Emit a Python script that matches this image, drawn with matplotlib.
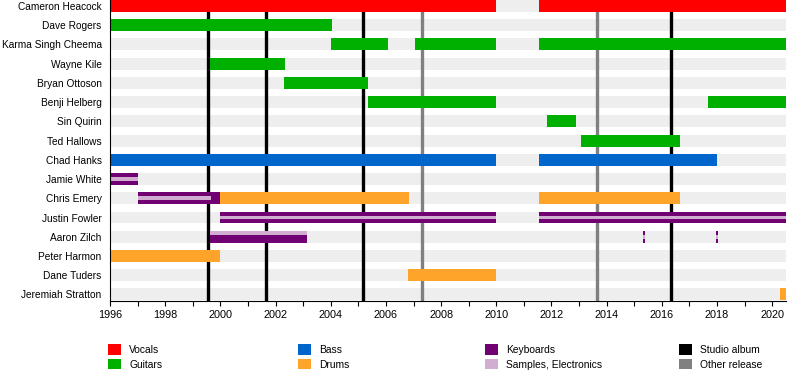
import matplotlib
matplotlib.use("Agg")
from matplotlib import pyplot as plt
from matplotlib.patches import Patch
import numpy as np

plt.rcParams['font.family'] = ['Liberation Sans', 'DejaVu Sans']

members = ["Cameron Heacock", "Dave Rogers", "Karma Singh Cheema", "Wayne Kile",
           "Bryan Ottoson", "Benji Helberg", "Sin Quirin", "Ted Hallows",
           "Chad Hanks", "Jamie White", "Chris Emery", "Justin Fowler",
           "Aaron Zilch", "Peter Harmon", "Dane Tuders", "Jeremiah Stratton"]

start_year = 1996.0
end_year = 2020.5

# (member, start, end)
vocals = [("Cameron Heacock", 1996.0, 2010.0), ("Cameron Heacock", 2011.55, 2020.5)]
guitars = [("Dave Rogers", 1996.0, 2004.05),
           ("Karma Singh Cheema", 2004.0, 2006.08),
           ("Karma Singh Cheema", 2007.06, 2010.0),
           ("Karma Singh Cheema", 2011.55, 2020.5),
           ("Wayne Kile", 1999.63, 2002.35),
           ("Bryan Ottoson", 2002.3, 2005.36),
           ("Benji Helberg", 2005.36, 2010.0),
           ("Benji Helberg", 2017.69, 2020.5),
           ("Sin Quirin", 2011.85, 2012.9),
           ("Ted Hallows", 2013.08, 2016.67)]
bass = [("Chad Hanks", 1996.0, 2010.0), ("Chad Hanks", 2011.55, 2018.0)]
drums = [("Chris Emery", 2000.0, 2006.85),
         ("Chris Emery", 2011.55, 2016.67),
         ("Peter Harmon", 1996.0, 2000.0),
         ("Dane Tuders", 2006.8, 2010.0),
         ("Jeremiah Stratton", 2020.3, 2020.5)]
keyboards = [("Jamie White", 1996.0, 1997.0),
             ("Chris Emery", 1997.0, 2000.0),
             ("Justin Fowler", 2000.0, 2010.0),
             ("Justin Fowler", 2011.55, 2020.5),
             ("Aaron Zilch", 2015.33, 2015.39),
             ("Aaron Zilch", 2017.97, 2018.03)]
samples = [("Jamie White", 1996.0, 1997.0),
           ("Chris Emery", 1997.0, 1999.66),
           ("Justin Fowler", 2000.0, 2010.0),
           ("Justin Fowler", 2011.55, 2020.5),
           ("Aaron Zilch", 2015.33, 2015.39),
           ("Aaron Zilch", 2017.97, 2018.03)]
# Aaron Zilch: samples as main bar, keyboards as lower stripe
samples_main = [("Aaron Zilch", 1999.63, 2003.14)]
keyboards_low = [("Aaron Zilch", 1999.63, 2003.14)]

studio_albums = [1999.55, 2001.66, 2005.18, 2016.35]
other_releases = [2007.32, 2013.66]

c_vocals = "#ff0000"
c_guitars = "#00b000"
c_bass = "#0066cc"
c_drums = "#ffa42a"
c_keys = "#710073"
c_samples = "#d2add2"
c_band = "#eeeeee"

fig = plt.figure(figsize=(8, 3.9), dpi=100)
ax = fig.add_axes([110 / 800, 1 - 301 / 390, 676 / 800, 301 / 390])

pos = {m: i for i, m in enumerate(members)}
h = 0.62

# background bands
ax.barh(range(len(members)), end_year - start_year, left=start_year,
        height=h, color=c_band, zorder=1)

for x in studio_albums:
    ax.axvline(x, color="black", lw=2.4, zorder=2)
for x in other_releases:
    ax.axvline(x, color="#808080", lw=2.4, zorder=2)


def draw(spans, color, height=h, offset=0.0):
    ys = [pos[m] + offset for m, s, e in spans]
    ax.barh(ys, [e - s for m, s, e in spans], left=[s for m, s, e in spans],
            height=height, color=color, zorder=3, linewidth=0)


draw(vocals, c_vocals)
draw(guitars, c_guitars)
draw(bass, c_bass)
draw(drums, c_drums)
draw(keyboards, c_keys)
draw(samples, c_samples, height=0.2)
draw(samples_main, c_samples)
draw(keyboards_low, c_keys, height=h * 2 / 3, offset=h / 6)

ax.set_xlim(start_year, end_year)
ax.set_ylim(15.34, -0.31)
ax.set_yticks(range(len(members)))
ax.set_yticklabels(members, fontsize=7.25)
ax.tick_params(axis="y", length=0, pad=6)
ax.set_xticks(np.arange(1996, 2021, 2))
ax.set_xticks(np.arange(1996, 2021, 1), minor=True)
ax.tick_params(axis="x", which="both", length=3.5, width=0.8, labelsize=7.8, pad=3)
for s in ["right", "top"]:
    ax.spines[s].set_visible(False)
ax.spines["bottom"].set_linewidth(0.8)
ax.spines["left"].set_linewidth(0.8)
ax.spines["left"].set_zorder(4)

legend_cols = [
    [("Vocals", c_vocals), ("Guitars", c_guitars)],
    [("Bass", c_bass), ("Drums", c_drums)],
    [("Keyboards", c_keys), ("Samples, Electronics", c_samples)],
    [("Studio album", "black"), ("Other release", "#808080")],
]
col_x = [108 / 800, 298 / 800, 485 / 800, 679 / 800]
for x0, items in zip(col_x, legend_cols):
    handles = [Patch(facecolor=c, edgecolor="none", label=l) for l, c in items]
    fig.legend(handles=handles, loc="upper left", bbox_to_anchor=(x0, 1 - 344 / 390),
               frameon=False, fontsize=7.4, handlelength=1.25, handleheight=1.2,
               handletextpad=0.8, labelspacing=0.4, borderpad=0, borderaxespad=0)

fig.savefig("out.png", dpi=100)
